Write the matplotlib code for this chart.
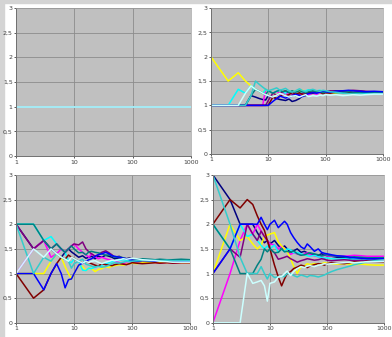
import matplotlib
matplotlib.use("Agg")
import matplotlib.pyplot as plt
from matplotlib.ticker import FixedLocator, NullLocator
import numpy as np

# sample positions (number of trials) shared by every series
X = [1, 2, 3, 4, 5, 6, 7, 8, 9, 10, 12, 14, 16, 18, 20, 23, 26, 30, 35, 40,
     45, 50, 60, 70, 80, 90, 100, 120, 150, 200, 250, 300, 400, 500, 700, 1000]

# excel-style series colours, drawn in this order
COLORS = ["#000080", "#FF00FF", "#FFFF00", "#00FFFF", "#800080",
          "#800000", "#008080", "#0000FF", "#33CCCC", "#CCFFFF"]

# panel 1: every series stays at 1
X1 = [1, 10, 100, 1000]
P1_values = [1, 1, 1, 1]

# panel 2 (top right)
p2_navy = [1, 1, 1, 1, 1.2, 1.17, 1.14, 1.12, 1.11, 1.2, 1.17, 1.14, 1.12, 1.11, 1.1, 1.13, 1.08, 1.1, 1.14, 1.2,
           1.2, 1.24, 1.25, 1.27, 1.26, 1.28, 1.27, 1.29, 1.3, 1.29, 1.28, 1.3, 1.29, 1.28, 1.27, 1.27]
p2_magenta = [1, 1, 1, 1, 1, 1, 1, 1, 1.33, 1.3, 1.25, 1.29, 1.25, 1.22, 1.25, 1.22, 1.27, 1.23, 1.2, 1.22,
              1.24, 1.22, 1.25, 1.23, 1.26, 1.25, 1.27, 1.26, 1.28, 1.27, 1.26, 1.27, 1.28, 1.27, 1.27, 1.27]
p2_yellow = [2, 1.5, 1.67, 1.5, 1.4, 1.33, 1.29, 1.25, 1.33, 1.3, 1.25, 1.21, 1.25, 1.28, 1.3, 1.26, 1.27, 1.3,
             1.29, 1.31, 1.28, 1.3, 1.28, 1.27, 1.26, 1.28, 1.27, 1.26, 1.25, 1.27, 1.26, 1.27, 1.26, 1.27, 1.26, 1.27]
p2_cyan = [1, 1, 1.33, 1.25, 1.4, 1.33, 1.29, 1.25, 1.33, 1.3, 1.25, 1.29, 1.31, 1.28, 1.25, 1.3, 1.27, 1.23, 1.26,
           1.28, 1.3, 1.32, 1.28, 1.3, 1.31, 1.29, 1.3, 1.28, 1.27, 1.26, 1.25, 1.24, 1.25, 1.24, 1.23, 1.23]
p2_purple = [1, 1, 1, 1, 1, 1, 1, 1, 1, 1.1, 1.25, 1.21, 1.25, 1.28, 1.3, 1.26, 1.23, 1.2, 1.23, 1.25, 1.27, 1.26,
             1.28, 1.3, 1.29, 1.27, 1.28, 1.3, 1.29, 1.3, 1.3, 1.31, 1.3, 1.29, 1.28, 1.28]
p2_darkred = [1, 1, 1, 1, 1, 1, 1, 1, 1, 1, 1.17, 1.14, 1.19, 1.22, 1.2, 1.22, 1.27, 1.23, 1.26, 1.22, 1.24, 1.26,
              1.25, 1.28, 1.27, 1.24, 1.26, 1.25, 1.27, 1.28, 1.27, 1.26, 1.28, 1.27, 1.28, 1.27]
p2_teal = [1, 1, 1, 1, 1.2, 1.33, 1.29, 1.25, 1.22, 1.3, 1.25, 1.29, 1.31, 1.28, 1.3, 1.26, 1.3, 1.27, 1.3, 1.28,
           1.26, 1.28, 1.3, 1.27, 1.28, 1.26, 1.27, 1.28, 1.26, 1.27, 1.28, 1.27, 1.26, 1.27, 1.27, 1.27]
p2_blue = [1, 1, 1, 1, 1, 1, 1, 1, 1, 1, 1.08, 1.14, 1.19, 1.17, 1.15, 1.17, 1.19, 1.23, 1.2, 1.18, 1.22, 1.24,
           1.26, 1.25, 1.27, 1.3, 1.28, 1.27, 1.29, 1.3, 1.31, 1.3, 1.29, 1.28, 1.29, 1.28]
p2_sky = [1, 1, 1, 1, 1.2, 1.5, 1.43, 1.375, 1.33, 1.3, 1.33, 1.36, 1.31, 1.33, 1.35, 1.3, 1.27, 1.3, 1.34, 1.3,
          1.28, 1.31, 1.33, 1.3, 1.29, 1.31, 1.3, 1.28, 1.27, 1.25, 1.24, 1.23, 1.24, 1.23, 1.24, 1.24]
p2_light = [1, 1, 1, 1.25, 1.4, 1.33, 1.29, 1.25, 1.22, 1.2, 1.17, 1.21, 1.25, 1.22, 1.2, 1.17, 1.19, 1.2, 1.17,
            1.2, 1.22, 1.18, 1.2, 1.19, 1.21, 1.2, 1.22, 1.21, 1.22, 1.2, 1.21, 1.22, 1.21, 1.22, 1.23, 1.23]

# panel 3 (bottom left)
p3_navy = [2, 1.5, 1.67, 1.5, 1.4, 1.33, 1.43, 1.5, 1.44, 1.4, 1.33, 1.36, 1.31, 1.33, 1.35, 1.3, 1.35, 1.33,
           1.37, 1.35, 1.33, 1.3, 1.32, 1.3, 1.28, 1.27, 1.26, 1.25, 1.26, 1.25, 1.24, 1.25, 1.24, 1.23, 1.24, 1.24]
p3_magenta = [1, 1.5, 1.67, 1.33, 1.4, 1.5, 1.43, 1.5, 1.56, 1.6, 1.5, 1.43, 1.38, 1.33, 1.4, 1.35, 1.3, 1.33,
              1.3, 1.28, 1.27, 1.25, 1.22, 1.2, 1.21, 1.2, 1.22, 1.21, 1.22, 1.23, 1.22, 1.21, 1.22, 1.21, 1.22, 1.22]
p3_yellow = [1, 1, 1, 1.25, 1.4, 1.33, 1.14, 1.0, 0.89, 1.0, 1.17, 1.14, 1.06, 1.11, 1.1, 1.04, 1.08, 1.1, 1.14,
             1.12, 1.15, 1.16, 1.18, 1.17, 1.19, 1.2, 1.21, 1.2, 1.22, 1.23, 1.22, 1.23, 1.22, 1.23, 1.22, 1.22]
p3_cyan = [2, 2, 1.67, 1.75, 1.6, 1.5, 1.43, 1.25, 1.22, 1.3, 1.25, 1.07, 1.06, 1.11, 1.1, 1.13, 1.15, 1.17, 1.2,
           1.22, 1.24, 1.26, 1.27, 1.28, 1.27, 1.26, 1.27, 1.26, 1.27, 1.26, 1.27, 1.28, 1.27, 1.28, 1.28, 1.28]
p3_purple = [2, 1.5, 1.67, 1.5, 1.6, 1.5, 1.43, 1.5, 1.56, 1.6, 1.58, 1.64, 1.5, 1.44, 1.4, 1.35, 1.38, 1.43,
             1.46, 1.42, 1.38, 1.33, 1.35, 1.31, 1.3, 1.32, 1.3, 1.29, 1.27, 1.26, 1.27, 1.26, 1.27, 1.26, 1.25, 1.25]
p3_darkred = [1, 0.5, 0.67, 1.0, 1.2, 1.33, 1.29, 1.375, 1.33, 1.3, 1.25, 1.21, 1.25, 1.22, 1.2, 1.17, 1.15, 1.2,
              1.18, 1.17, 1.16, 1.18, 1.2, 1.19, 1.18, 1.2, 1.22, 1.21, 1.2, 1.21, 1.22, 1.21, 1.22, 1.21, 1.22, 1.22]
p3_teal = [2, 2, 1.67, 1.5, 1.6, 1.5, 1.43, 1.5, 1.56, 1.5, 1.42, 1.43, 1.38, 1.44, 1.45, 1.43, 1.42, 1.4, 1.37,
           1.38, 1.36, 1.33, 1.34, 1.32, 1.3, 1.31, 1.3, 1.29, 1.3, 1.29, 1.28, 1.29, 1.28, 1.28, 1.29, 1.28]
p3_blue = [1, 1, 0.67, 1.0, 1.2, 1.0, 0.71, 0.875, 0.89, 1.0, 1.17, 1.21, 1.25, 1.28, 1.3, 1.35, 1.38, 1.4, 1.43,
           1.4, 1.36, 1.35, 1.33, 1.31, 1.3, 1.28, 1.27, 1.26, 1.27, 1.26, 1.25, 1.26, 1.25, 1.26, 1.25, 1.25]
p3_sky = [2, 1.0, 1.33, 1.25, 1.4, 1.33, 1.29, 1.25, 1.11, 1.2, 1.25, 1.29, 1.19, 1.17, 1.15, 1.13, 1.15, 1.13,
          1.14, 1.17, 1.2, 1.22, 1.21, 1.23, 1.25, 1.24, 1.25, 1.26, 1.27, 1.26, 1.27, 1.26, 1.27, 1.26, 1.26, 1.26]
p3_light = [1, 1.5, 1.33, 1.5, 1.4, 1.33, 1.29, 1.25, 1.33, 1.3, 1.25, 1.21, 1.25, 1.22, 1.25, 1.26, 1.23, 1.2,
            1.23, 1.25, 1.27, 1.26, 1.28, 1.3, 1.29, 1.3, 1.31, 1.3, 1.28, 1.27, 1.26, 1.25, 1.24, 1.23, 1.23, 1.23]

# panel 4 (bottom right)
p4_navy = [3, 2.5, 2, 2, 2, 1.83, 1.71, 1.625, 1.67, 1.6, 1.67, 1.57, 1.5, 1.56, 1.5, 1.43, 1.46, 1.5, 1.43,
           1.45, 1.42, 1.4, 1.38, 1.37, 1.4, 1.38, 1.36, 1.35, 1.33, 1.32, 1.31, 1.3, 1.31, 1.3, 1.3, 1.3]
p4_magenta = [0, 1, 1.67, 2, 1.8, 2, 1.86, 1.75, 1.67, 1.6, 1.58, 1.5, 1.56, 1.5, 1.45, 1.39, 1.42, 1.4, 1.37,
              1.4, 1.42, 1.38, 1.36, 1.34, 1.35, 1.37, 1.36, 1.35, 1.36, 1.35, 1.36, 1.37, 1.36, 1.35, 1.35, 1.35]
p4_yellow = [1, 2, 1.67, 1.75, 1.6, 1.5, 1.57, 1.75, 1.78, 1.8, 1.83, 1.64, 1.56, 1.5, 1.45, 1.3, 1.15, 1.0, 1.14,
             1.15, 1.2, 1.18, 1.2, 1.19, 1.2, 1.22, 1.21, 1.2, 1.19, 1.2, 1.19, 1.18, 1.19, 1.18, 1.17, 1.17]
p4_cyan = [2, 1.5, 2, 1.75, 1.8, 1.67, 1.57, 1.5, 1.56, 1.5, 1.58, 1.43, 1.5, 1.44, 1.5, 1.48, 1.42, 1.43, 1.4,
           1.38, 1.36, 1.35, 1.37, 1.34, 1.33, 1.31, 1.32, 1.3, 1.29, 1.3, 1.29, 1.3, 1.29, 1.3, 1.3, 1.3]
p4_purple = [1, 1.5, 1.33, 2, 1.8, 1.67, 1.86, 1.75, 1.67, 1.5, 1.42, 1.29, 1.31, 1.33, 1.35, 1.3, 1.27, 1.23,
             1.26, 1.28, 1.3, 1.29, 1.27, 1.28, 1.3, 1.29, 1.27, 1.26, 1.27, 1.28, 1.27, 1.26, 1.27, 1.26, 1.27, 1.27]
p4_darkred = [2, 2.5, 2.33, 2.5, 2.4, 2.17, 2.0, 1.875, 1.67, 1.5, 1.17, 0.93, 0.75, 0.89, 1.0, 1.04, 1.1, 1.13,
              1.17, 1.15, 1.12, 1.15, 1.18, 1.2, 1.19, 1.17, 1.2, 1.22, 1.21, 1.2, 1.22, 1.24, 1.23, 1.25, 1.24, 1.24]
p4_teal = [2, 1.5, 1.0, 1.0, 1.0, 1.17, 1.29, 1.5, 1.44, 1.5, 1.42, 1.43, 1.5, 1.44, 1.45, 1.43, 1.46, 1.4, 1.37,
           1.38, 1.4, 1.42, 1.4, 1.38, 1.36, 1.37, 1.38, 1.36, 1.35, 1.34, 1.33, 1.34, 1.33, 1.32, 1.32, 1.32]
p4_blue = [1, 1.5, 2, 2, 2, 2, 2.14, 2.0, 1.89, 2.0, 2.08, 1.93, 2.0, 2.06, 2.0, 1.83, 1.73, 1.63, 1.54, 1.5,
           1.6, 1.55, 1.45, 1.5, 1.43, 1.41, 1.4, 1.38, 1.36, 1.35, 1.33, 1.32, 1.31, 1.3, 1.3, 1.3]
p4_sky = [3, 2, 1.33, 1.0, 1.0, 1.0, 1.14, 1.0, 0.89, 1.0, 0.92, 0.93, 0.94, 0.94, 1.0, 1.0, 0.96, 0.93, 0.97,
          0.95, 0.93, 0.96, 0.95, 0.93, 0.95, 0.97, 1.0, 1.04, 1.08, 1.12, 1.15, 1.18, 1.21, 1.24, 1.26, 1.28]
p4_light = [0, 0, 0, 1.0, 0.8, 0.83, 0.86, 0.75, 0.44, 0.8, 0.83, 0.93, 0.94, 1.0, 1.05, 0.96, 1.04, 1.1, 1.14,
            1.12, 1.15, 1.16, 1.14, 1.17, 1.18, 1.2, 1.19, 1.2, 1.21, 1.22, 1.23, 1.22, 1.23, 1.24, 1.24, 1.25]

panel2 = [p2_navy, p2_magenta, p2_yellow, p2_cyan, p2_purple, p2_darkred, p2_teal, p2_blue, p2_sky, p2_light]
panel3 = [p3_navy, p3_magenta, p3_yellow, p3_cyan, p3_purple, p3_darkred, p3_teal, p3_blue, p3_sky, p3_light]
panel4 = [p4_navy, p4_magenta, p4_yellow, p4_cyan, p4_purple, p4_darkred, p4_teal, p4_blue, p4_sky, p4_light]

YTICKS = [0, 0.5, 1, 1.5, 2, 2.5, 3]
YLABELS = ["0", "0,5", "1", "1,5", "2", "2,5", "3"]
XTICKS = [1, 10, 100, 1000]
XLABELS = ["1", "10", "100", "1000"]


def StyleAxis(ax):
    ax.set_facecolor("#c0c0c0")
    ax.set_xscale("log")
    ax.set_xlim(1, 1000)
    ax.set_ylim(0, 3)
    ax.xaxis.set_major_locator(FixedLocator(XTICKS))
    ax.xaxis.set_minor_locator(NullLocator())
    ax.set_xticklabels(XLABELS)
    ax.set_yticks(YTICKS)
    ax.set_yticklabels(YLABELS)
    ax.grid(True, color="#8c8c8c", linewidth=0.6)
    ax.set_axisbelow(True)
    ax.tick_params(labelsize=4.5, colors="#404040", length=1.5, width=0.6, pad=1)
    for side in ["left", "bottom"]:
        ax.spines[side].set_color("#707070")
        ax.spines[side].set_linewidth(0.7)
    for side in ["top", "right"]:
        ax.spines[side].set_color("#a0a0a0")
        ax.spines[side].set_linewidth(0.5)


fig = plt.figure(figsize=(3.92, 3.37), dpi=100)
fig.patch.set_facecolor("white")

# thin grey frame strips on the left and top edge, kept under everything
fig.patches.append(plt.Rectangle((0, 0), 0.009, 1, transform=fig.transFigure, color="#d4d4d4", zorder=-5))
fig.patches.append(plt.Rectangle((0, 0.991), 1, 0.009, transform=fig.transFigure, color="#d4d4d4", zorder=-5))

ax1 = fig.add_axes([0.041, 0.537, 0.446, 0.439])
ax2 = fig.add_axes([0.538, 0.543, 0.439, 0.433])
ax3 = fig.add_axes([0.041, 0.042, 0.444, 0.439])
ax4 = fig.add_axes([0.543, 0.042, 0.437, 0.439])

for color in COLORS:
    ax1.plot(X1, P1_values, color=color, linewidth=1.1)

for ax, series in [(ax2, panel2), (ax3, panel3), (ax4, panel4)]:
    for values, color in zip(series, COLORS):
        ax.plot(X, values, color=color, linewidth=1.1, clip_on=True)

for ax in [ax1, ax2, ax3, ax4]:
    StyleAxis(ax)

fig.savefig("out.png", dpi=100)
